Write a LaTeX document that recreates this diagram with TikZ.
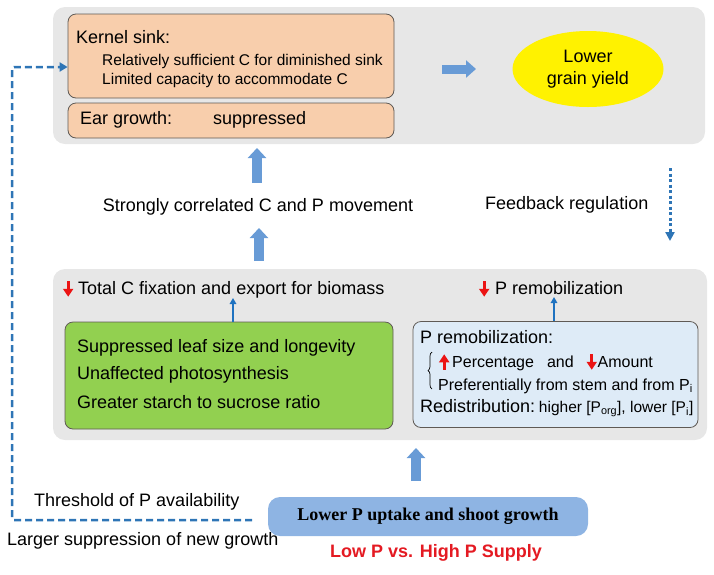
\documentclass[tikz,border=0pt]{standalone}
\usepackage{fontspec}
\setmainfont{Liberation Sans}
\newfontfamily\serifbf{Liberation Serif}
\usetikzlibrary{arrows.meta,shapes.geometric,decorations.pathreplacing}
\definecolor{panelgray}{RGB}{231,231,231}
\definecolor{peach}{RGB}{248,206,172}
\definecolor{leafgreen}{RGB}{146,208,80}
\definecolor{paleblue}{RGB}{222,235,247}
\definecolor{lowblue}{RGB}{142,180,227}
\definecolor{fatblue}{RGB}{104,155,214}
\definecolor{darkblue}{RGB}{31,114,192}
\definecolor{dashblue}{RGB}{46,117,182}
\definecolor{redarrow}{RGB}{235,20,20}
\definecolor{supplyred}{RGB}{228,26,34}
\definecolor{boxedge}{RGB}{95,90,85}
\newcommand{\rdown}{\tikz[baseline=0pt]\draw[redarrow,line width=3.4pt,-{Triangle[width=10pt,length=8pt]}] (0pt,13pt) -- (0pt,-2.5pt);}
\newcommand{\rup}{\tikz[baseline=0pt]\draw[redarrow,line width=3.4pt,-{Triangle[width=10pt,length=8pt]}] (0pt,-2.5pt) -- (0pt,13pt);}
\begin{document}
\begin{tikzpicture}[x=1pt,y=-1pt,
  panel/.style={fill=panelgray,rounded corners=12pt,inner sep=0pt},
  peachbox/.style={draw=boxedge,line width=0.8pt,fill=peach,rounded corners=8pt,inner sep=0pt,minimum width=326pt},
  greenbox/.style={draw=boxedge,line width=0.8pt,fill=leafgreen,rounded corners=8pt,inner sep=0pt},
  bluebox/.style={draw=boxedge,line width=0.8pt,fill=paleblue,rounded corners=8pt,inner sep=0pt},
  txt/.style={inner sep=0pt,font=\fontsize{18}{22}\selectfont},
  subtxt/.style={inner sep=0pt,font=\fontsize{15.5}{19}\selectfont},
  midtxt/.style={inner sep=0pt,font=\fontsize{16}{19}\selectfont},
  fat/.style={fatblue,line width=10pt,-{Triangle[width=18pt,length=10pt]}},
  thin/.style={darkblue,line width=2pt,-{Triangle[width=6.5pt,length=6pt]}},
  dashline/.style={dashblue,line width=2.5pt,dash pattern=on 7pt off 4pt,-{Triangle[width=9pt,length=8pt]}},
  dotline/.style={dashblue,line width=3pt,dash pattern=on 3pt off 2.5pt,-{Triangle[width=9pt,length=9pt]}}
]
\useasboundingbox (0,0) rectangle (714,574);
% panels
\node[panel,minimum width=652pt,minimum height=137pt] (toppanel) at (379,75.5) {};
\node[panel,minimum width=654pt,minimum height=171pt] (midpanel) at (380,354.5) {};
% top panel content
\node[peachbox,minimum height=84pt] (kernel) at (231,56) {};
\node[peachbox,minimum height=35pt] (ear) at (231,120.5) {};
\node[txt,anchor=west] (ks) at (76,37) {Kernel sink:};
\node[subtxt,anchor=west] (ks1) at (102,61) {Relatively sufficient C for diminished sink};
\node[subtxt,anchor=west] (ks2) at (102,80) {Limited capacity to accommodate C};
\node[txt,anchor=west] (eg) at (80,120) {Ear growth:};
\node[txt,anchor=west] (egs) at (213,120) {suppressed};
\node[ellipse,fill=yellow,minimum width=151pt,minimum height=76pt,inner sep=0pt,align=center,font=\fontsize{18}{22}\selectfont] (yield) at (588,69) {Lower\\grain yield};
\coordinate (ra1) at (442,69);
\coordinate (ra2) at (476,69);
\draw[fat,line width=9pt,-{Triangle[width=17pt,length=10pt]}] (ra1) -- (ra2);
% between panels
\node[txt] (corr) at (258,207) {Strongly correlated C and P movement};
\coordinate (ua1) at (257,183);
\coordinate (ua2) at (257,148);
\draw[fat] (ua1) -- (ua2);
\coordinate (la1) at (259,261);
\coordinate (la2) at (259,228);
\draw[fat] (la1) -- (la2);
\node[txt,anchor=west] (fb) at (485,205) {Feedback regulation};
\coordinate (fd1) at (670,168);
\coordinate (fd2) at (670,241);
\draw[dotline] (fd1) -- (fd2);
% middle panel headers
\node[txt,anchor=west] (tc) at (63,289) {\rdown\hspace{5pt}Total C fixation and export for biomass};
\node[txt,anchor=west] (prh) at (479,289) {\rdown\hspace{6pt}P remobilization};
% green box
\node[greenbox,minimum width=328pt,minimum height=107pt] (green) at (229,375.5) {};
\node[txt,anchor=west] (g1) at (77,348) {Suppressed leaf size and longevity};
\node[txt,anchor=west] (g2) at (77,375) {Unaffected photosynthesis};
\node[txt,anchor=west] (g3) at (77,402) {Greater starch to sucrose ratio};
% blue box
\node[bluebox,minimum width=285pt,minimum height=106pt] (blue) at (555.5,374.5) {};
\node[txt,anchor=west] (pr1) at (420,337) {P remobilization:};
\draw[line width=0.7pt,decorate,decoration={brace,amplitude=4pt}] (432,389) -- (432,352);
\node[midtxt,anchor=west] (pr2) at (439,362) {\rup\hspace{3pt}Percentage\hspace{13pt}and\hspace{13pt}\rdown\hspace{1pt}Amount};
\node[midtxt,anchor=west] (pr3) at (438,386) {Preferentially from stem and from P\textsubscript{i}};
\node[inner sep=0pt,anchor=west] (pr4) at (420,408) {{\fontsize{18}{22}\selectfont Redistribution:} {\fontsize{15.5}{18}\selectfont higher [P\textsubscript{org}], lower [P\textsubscript{i}]}};
% small arrows into headers
\draw[thin] (green.north -| 233,0) -- (233,298);
\draw[thin] (blue.north -| 554,0) -- (554,297);
% bottom
\node[fill=lowblue,rounded corners=12pt,minimum width=320pt,minimum height=39pt,inner sep=0pt,font=\serifbf\bfseries\fontsize{18}{21}\selectfont] (low) at (428,516.5) {Lower P uptake and shoot growth};
\node[inner sep=0pt,text=supplyred,font=\bfseries\fontsize{18}{22}\selectfont] (supply) at (436,553) {Low P vs. High P Supply};
\coordinate (ba1) at (416,481);
\coordinate (ba2) at (416,448);
\draw[fat] (ba1) -- (ba2);
\node[txt,anchor=west] (thr) at (34,502) {Threshold of P availability};
\node[txt,anchor=west] (lsup) at (7,541) {Larger suppression of new growth};
\coordinate (d0) at (252,520);
\coordinate (d1) at (12,520);
\coordinate (d2) at (12,67);
\draw[dashline,rounded corners=2pt] (d0) -- (d1) -- (d2) -- (kernel.west |- d2);
\end{tikzpicture}
\end{document}
